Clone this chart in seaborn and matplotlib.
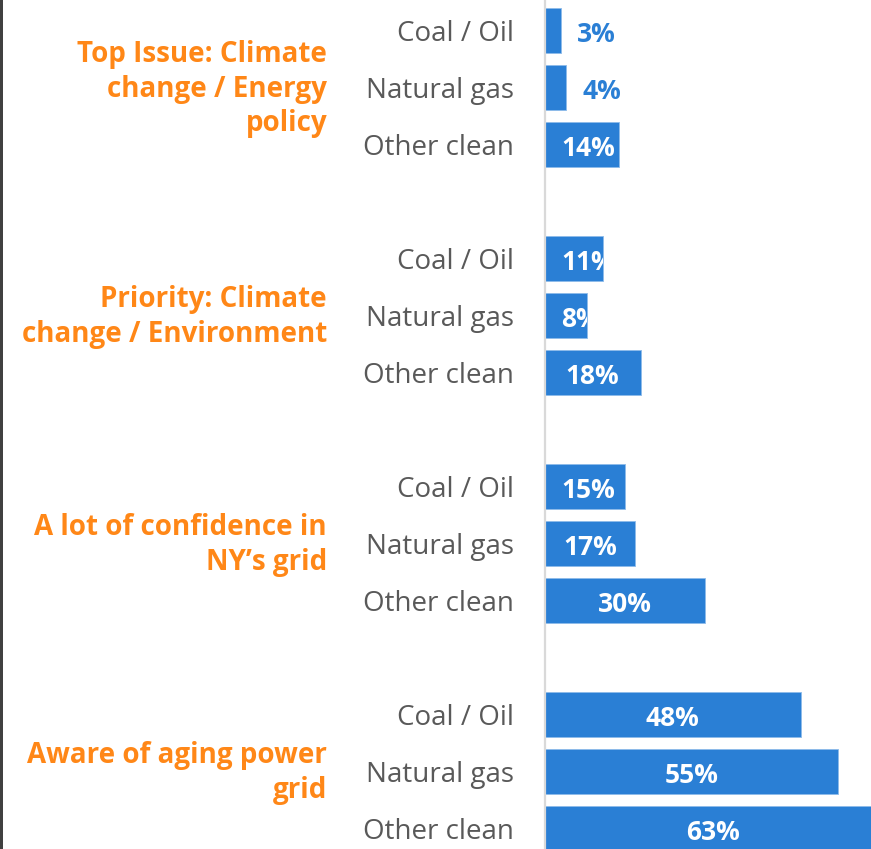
import pandas as pd
import matplotlib.pyplot as plt
import seaborn as sns
from matplotlib.patches import Rectangle
from matplotlib.transforms import TransformedBbox

# Datos
groups = [
    "Top Issue: Climate\nchange / Energy\npolicy",
    "Priority: Climate\nchange / Environment",
    "A lot of confidence in\nNY\u2019s grid",
    "Aware of aging power\ngrid",
]
sources = ["Coal / Oil", "Natural gas", "Other clean"]
top_issue = [3, 4, 14]
priority = [11, 8, 18]
confidence = [15, 17, 30]
aware = [48, 55, 63]

blue = "#2A7FD5"
orange = "#FF8717"
gray_text = "#595959"

rows = []
for g, vals in enumerate([top_issue, priority, confidence, aware]):
    for i, v in enumerate(vals):
        rows.append({"group": groups[g], "source": sources[i], "value": v, "pos": g * 4 + i})
df = pd.DataFrame(rows)

sns.set_style("white")
plt.rcParams["font.family"] = ["Open Sans", "DejaVu Sans"]

fig = plt.figure(figsize=(8.71, 8.49), dpi=100)
ax = fig.add_axes([544.5 / 871, 0, 326.5 / 871, 1])

sns.barplot(data=df, x="value", y="pos", orient="h", native_scale=True,
            color=blue, saturation=1, width=0.8, edgecolor="#8DBBEA",
            linewidth=0.6, ax=ax)

ax.set_xlim(0, 61.1)
ax.set_ylim(14.36, -0.535)
ax.set_yticks(df["pos"])
ax.set_yticklabels(df["source"], fontsize=20, color=gray_text)
ax.tick_params(axis="y", length=0, pad=22)
ax.set_xticks([])
ax.set_xlabel("")
ax.set_ylabel("")
sns.despine(ax=ax, top=True, right=True, bottom=True)
ax.spines["left"].set_color("#D9D9D9")
ax.spines["left"].set_linewidth(1.6)

# Etiquetas de valores (un poco por debajo del centro, como en el original)
dy = 0.07
for bar, v, p in zip(ax.patches, df["value"], df["pos"]):
    label = f"{v}%"
    if v < 5:
        ax.annotate(label, (v, p + dy), xytext=(12, 0), textcoords="offset points",
                    ha="left", va="center", fontsize=19, fontweight="bold",
                    color=blue)
    else:
        if v <= 15:
            t = ax.text(3.2, p + dy, label, ha="left", va="center", fontsize=19,
                        fontweight="bold", color="white")
        else:
            t = ax.text(v / 2, p + dy, label, ha="center", va="center", fontsize=19,
                        fontweight="bold", color="white")
        t.set_clip_box(TransformedBbox(bar.get_bbox(), ax.transData))
        t.set_clip_on(True)

# Etiquetas de grupo
for g, name in enumerate(groups):
    fig.text(327 / 871, 1 - (32 + 57 * (g * 4 + 1)) / 849, name,
             ha="right", va="center", multialignment="right", fontsize=20,
             fontweight="bold", color=orange, linespacing=1.27)

# Borde izquierdo
fig.patches.append(Rectangle((0, 0), 3 / 871, 1, transform=fig.transFigure,
                             facecolor="#404040", edgecolor="none"))

plt.savefig("out.png", dpi=100)
plt.close()
